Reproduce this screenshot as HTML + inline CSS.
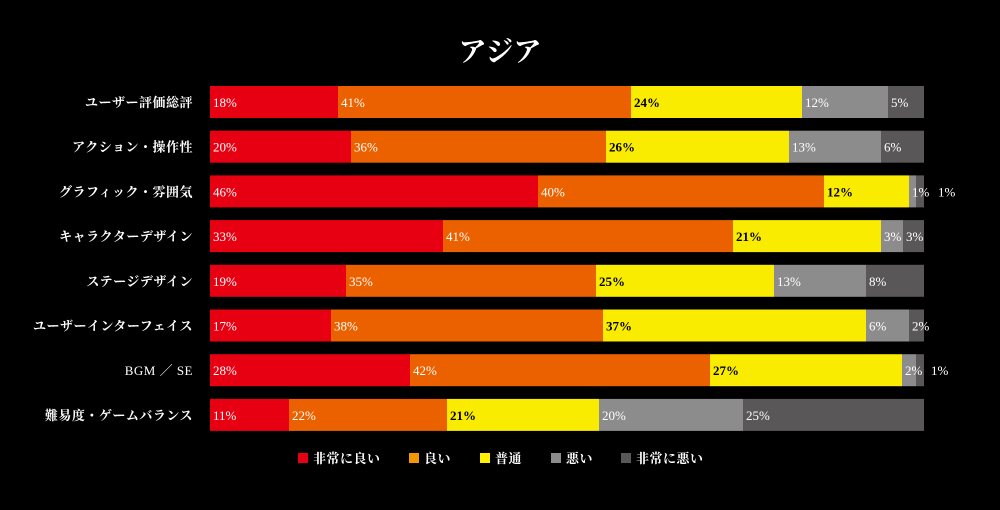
<!DOCTYPE html>
<html><head><meta charset="utf-8"><style>
html,body{margin:0;padding:0;background:#000;}
svg{display:block}
text{font-family:"Liberation Serif","Noto Serif CJK SC",serif;}
.l{font-size:13px;font-weight:bold;fill:#fff;text-anchor:end;letter-spacing:0.5px}
.p{font-size:13px;fill:#fff}
.pb{font-size:13px;fill:#000;font-weight:bold}
.lg{font-size:13px;fill:#fff;font-weight:bold;letter-spacing:0.5px}
</style></head><body>
<svg width="1000" height="510" viewBox="0 0 1000 510">
<rect width="1000" height="510" fill="#000"/>
<text x="500" y="61" text-anchor="middle" style="font-size:28px;font-weight:bold;fill:#fff">アジア</text>
<g id="bars"></g>
<g id="legend">
<rect x="298" y="453" width="10" height="10" fill="#e60012"/><text x="313" y="463" class="lg">非常に良い</text>
<rect x="409" y="453" width="10" height="10" fill="#f39800"/><text x="424" y="463" class="lg">良い</text>
<rect x="480" y="453" width="10" height="10" fill="#fff100"/><text x="495" y="463" class="lg">普通</text>
<rect x="551" y="453" width="10" height="10" fill="#8c8c8c"/><text x="566" y="463" class="lg">悪い</text>
<rect x="621" y="453" width="10" height="10" fill="#595757"/><text x="636" y="463" class="lg">非常に悪い</text>
</g>
</svg>
<script>
var rows=[
["ユーザー評価総評",[210,338,631,802,888,924],["18%","41%","24%","12%","5%"]],
["アクション・操作性",[210,351,606,789,881,924],["20%","36%","26%","13%","6%"]],
["グラフィック・雰囲気",[210,538,824,909,916,924],["46%","40%","12%","1%","1%"]],
["キャラクターデザイン",[210,443,733,881,903,924],["33%","41%","21%","3%","3%"]],
["ステージデザイン",[210,346,596,774,866,924],["19%","35%","25%","13%","8%"]],
["ユーザーインターフェイス",[210,331,603,866,909,924],["17%","38%","37%","6%","2%"]],
["BGM ／ SE",[210,410,710,902,916,924],["28%","42%","27%","2%","1%"]],
["難易度・ゲームバランス",[210,289,447,599,743,924],["11%","22%","21%","20%","25%"]]];
var cols=["#e60012","#eb6100","#f9ec00","#8c8c8c","#595757"];
var ns="http://www.w3.org/2000/svg",g=document.getElementById("bars");
function el(t,a,txt){var e=document.createElementNS(ns,t);for(var k in a)e.setAttribute(k,a[k]);if(txt)e.textContent=txt;g.appendChild(e);return e;}
rows.forEach(function(r,i){
 var y=86+i*44.7;
 var lab=el("text",{x:193,y:y+21,"class":"l"},r[0]);
 if(i==6)lab.setAttribute("style","font-weight:normal");
 for(var j=0;j<5;j++){
  el("rect",{x:r[1][j],y:y,width:r[1][j+1]-r[1][j],height:32,fill:cols[j]});
 }
 for(var j=0;j<5;j++){
  var x=r[1][j]+3;
  if(i==2&&j==4)x=938;
  if(i==6&&j==4)x=931;
  el("text",{x:x,y:y+21,"class":j==2?"pb":"p"},r[2][j]);
 }
});
</script>
</body></html>
